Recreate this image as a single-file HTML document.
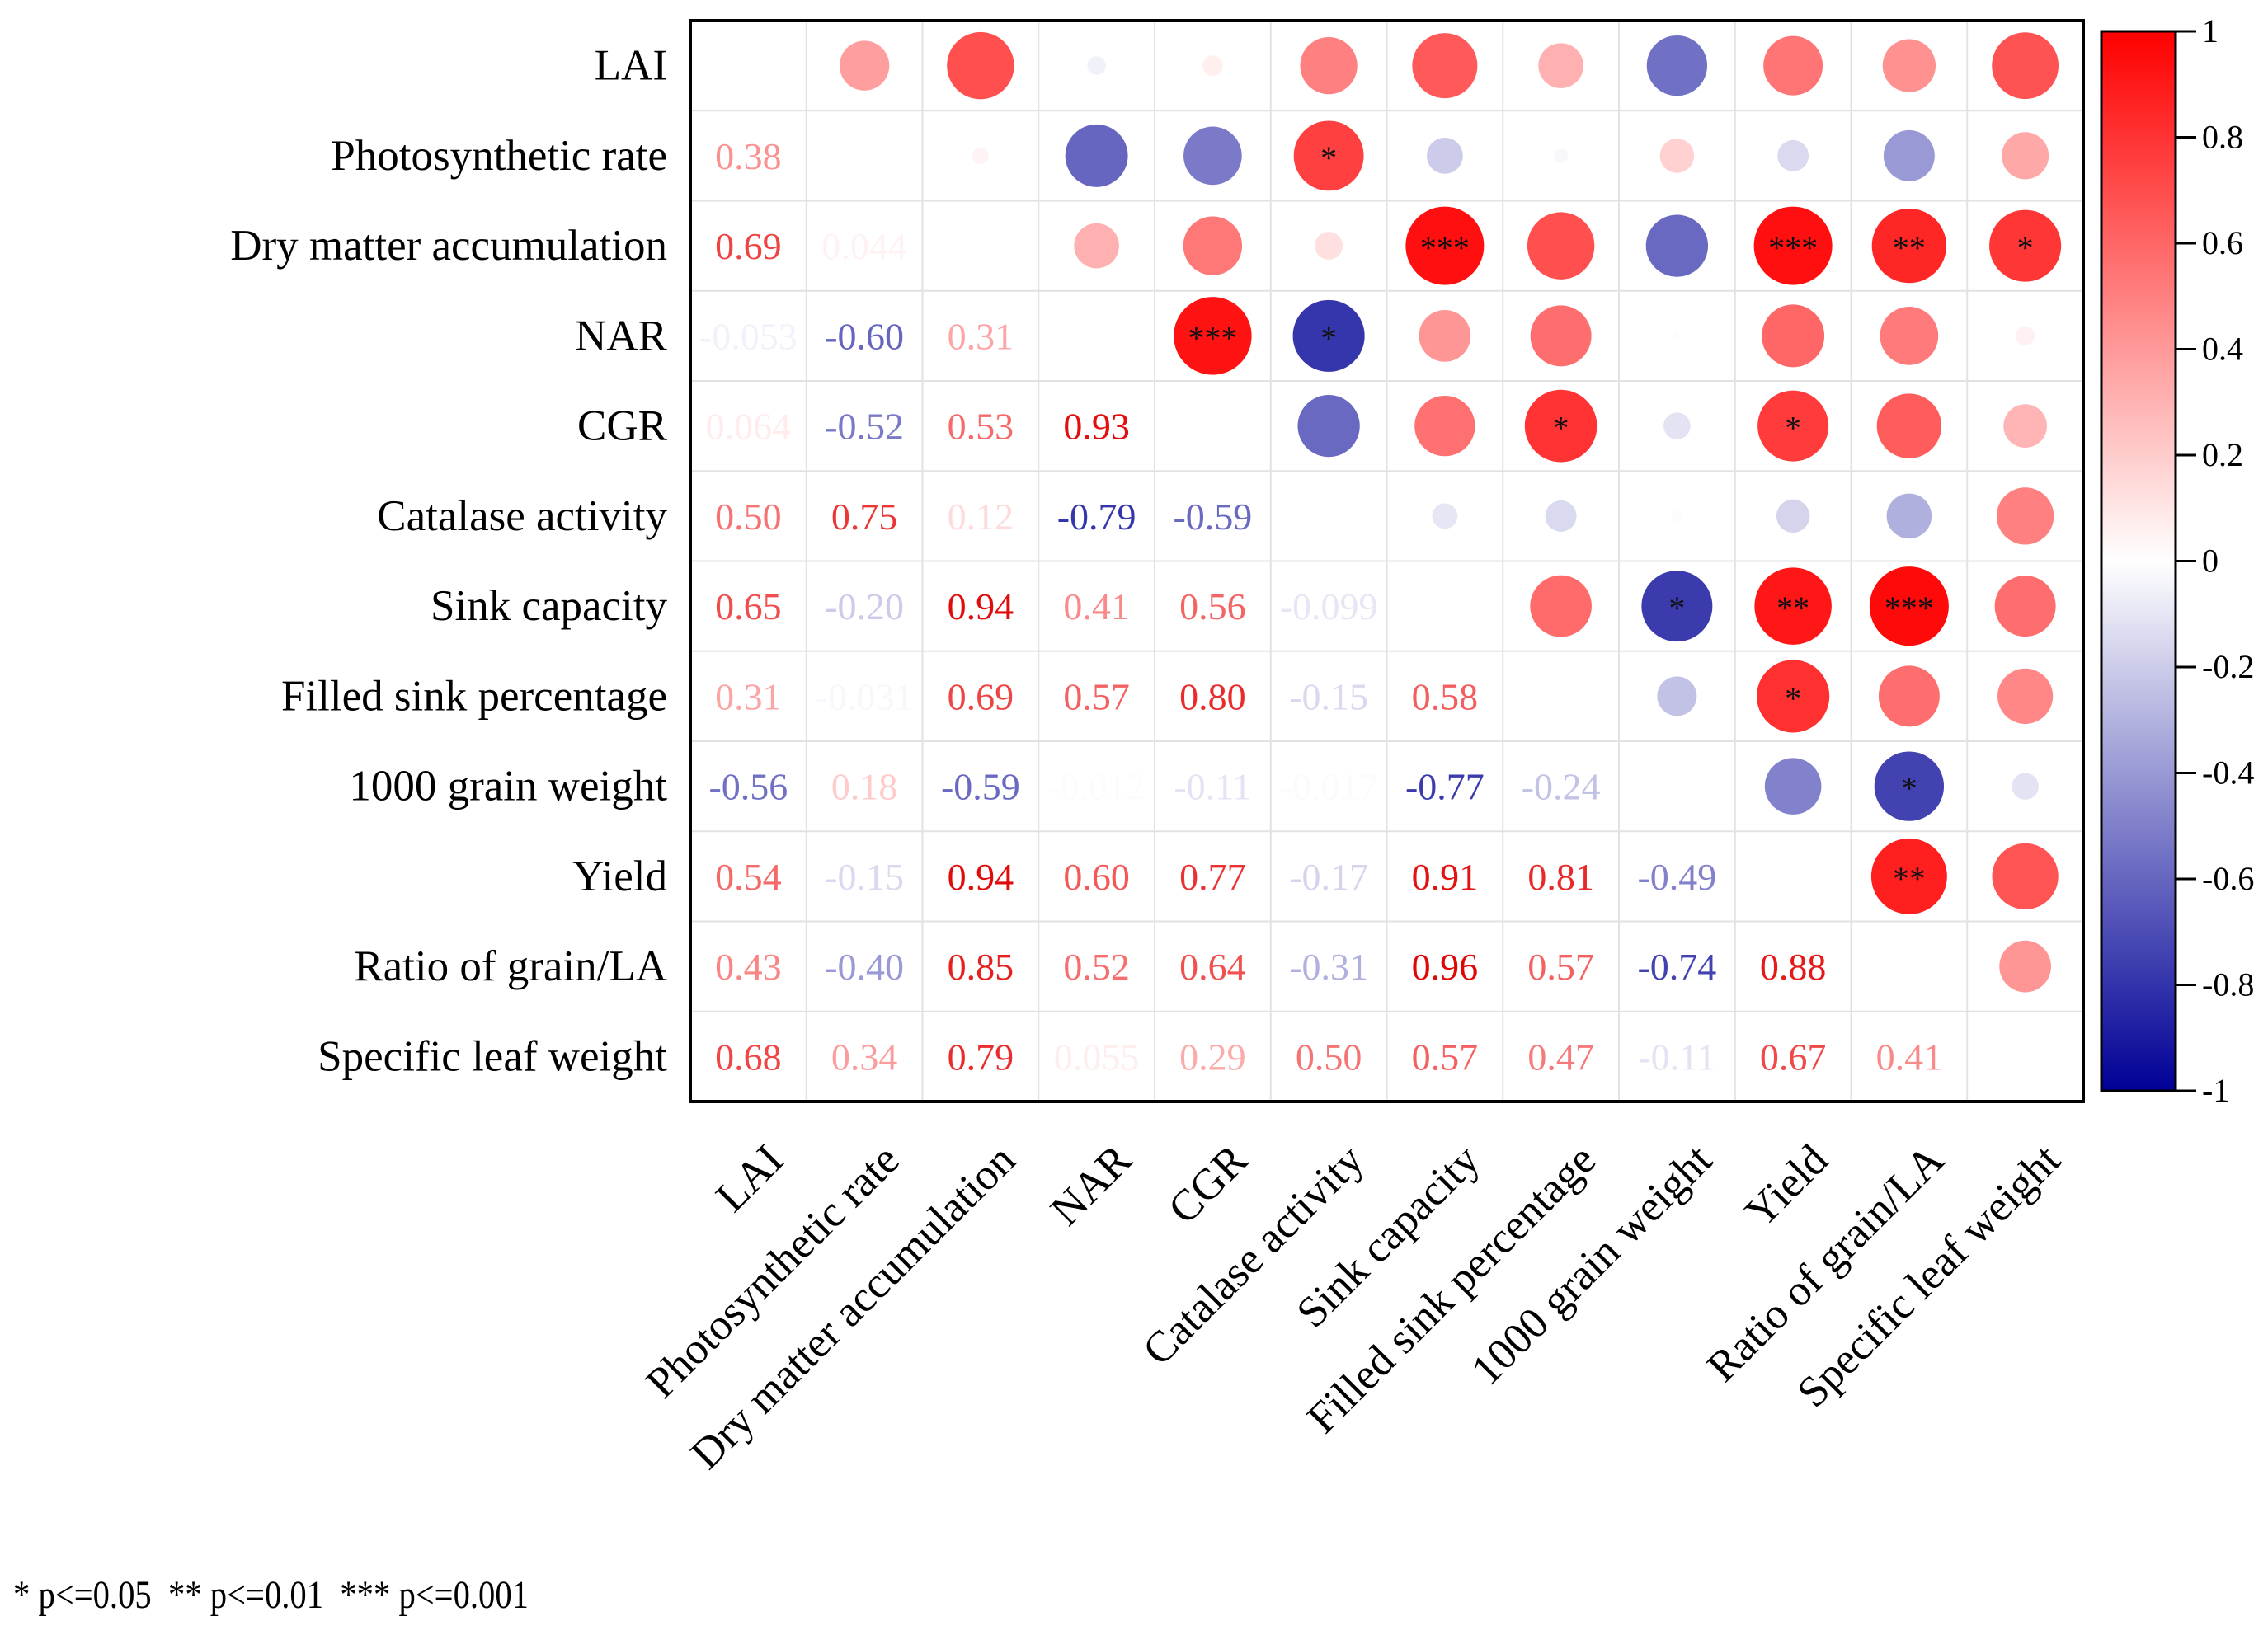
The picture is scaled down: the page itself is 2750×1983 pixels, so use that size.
<!DOCTYPE html>
<html><head><meta charset="utf-8">
<style>html,body{margin:0;padding:0;background:#fff;}svg{display:block;}</style>
</head><body>
<svg id="chart" xmlns="http://www.w3.org/2000/svg" width="2750" height="1983" viewBox="0 0 2750 1983" font-family="'Liberation Serif', serif">
<defs>
<linearGradient id="cbar" x1="0" y1="0" x2="0" y2="1">
<stop offset="0" stop-color="#ff0000"/>
<stop offset="0.5" stop-color="#ffffff"/>
<stop offset="1" stop-color="#000096"/>
</linearGradient>
</defs>
<g id="grid"></g>
<g id="cells"></g>
<rect x="837" y="25" width="1689" height="1311" fill="none" stroke="#000" stroke-width="4"/>
<g id="rowlabels"></g>
<g id="collabels"></g>
<rect x="2548" y="38" width="90" height="1285" fill="url(#cbar)" stroke="#000" stroke-width="3"/>
<g id="cbticks"></g>
<text x="16" y="1950" font-size="48" textLength="625" lengthAdjust="spacingAndGlyphs" fill="#000" xml:space="preserve">* p&lt;=0.05&#160;&#160;** p&lt;=0.01&#160;&#160;*** p&lt;=0.001</text>
</svg>
<script>
const variables = ["LAI","Photosynthetic rate","Dry matter accumulation","NAR","CGR","Catalase activity","Sink capacity","Filled sink percentage","1000 grain weight","Yield","Ratio of grain/LA","Specific leaf weight"];
const lowerValues = [
  [],
  [0.38],
  [0.69,0.044],
  [-0.053,-0.60,0.31],
  [0.064,-0.52,0.53,0.93],
  [0.50,0.75,0.12,-0.79,-0.59],
  [0.65,-0.20,0.94,0.41,0.56,-0.099],
  [0.31,-0.031,0.69,0.57,0.80,-0.15,0.58],
  [-0.56,0.18,-0.59,-0.012,-0.11,-0.017,-0.77,-0.24],
  [0.54,-0.15,0.94,0.60,0.77,-0.17,0.91,0.81,-0.49],
  [0.43,-0.40,0.85,0.52,0.64,-0.31,0.96,0.57,-0.74,0.88],
  [0.68,0.34,0.79,0.055,0.29,0.50,0.57,0.47,-0.11,0.67,0.41]
];
const valueLabels = [
  [],
  ["0.38"],
  ["0.69","0.044"],
  ["-0.053","-0.60","0.31"],
  ["0.064","-0.52","0.53","0.93"],
  ["0.50","0.75","0.12","-0.79","-0.59"],
  ["0.65","-0.20","0.94","0.41","0.56","-0.099"],
  ["0.31","-0.031","0.69","0.57","0.80","-0.15","0.58"],
  ["-0.56","0.18","-0.59","-0.012","-0.11","-0.017","-0.77","-0.24"],
  ["0.54","-0.15","0.94","0.60","0.77","-0.17","0.91","0.81","-0.49"],
  ["0.43","-0.40","0.85","0.52","0.64","-0.31","0.96","0.57","-0.74","0.88"],
  ["0.68","0.34","0.79","0.055","0.29","0.50","0.57","0.47","-0.11","0.67","0.41"]
];
const sigRows = [1,2,2,2,2,3,3,4,4,6,6,6,7,8,9];
const sigCols = [5,6,9,10,11,4,5,7,9,8,9,10,9,10,10];
const sigStars = ["*","***","***","**","*","***","*","*","*","*","**","***","*","*","**"];
const cbTicks = [1,0.8,0.6,0.4,0.2,0,-0.2,-0.4,-0.6,-0.8,-1];
const cbTickLabels = ["1","0.8","0.6","0.4","0.2","0","-0.2","-0.4","-0.6","-0.8","-1"];

const NS="http://www.w3.org/2000/svg";
const X0=837, Y0=25, W=1689, H=1311, N=variables.length;
const cw=W/N, ch=H/N;
const xc = j => X0 + cw*(j+0.5);
const yc = i => Y0 + ch*(i+0.5);
const rad = v => 49*Math.sqrt(Math.abs(v));
function color(v){
  let r,g,b;
  if(v>=0){ r=255; g=Math.round(255*(1-v)); b=g; }
  else { const t=-v; r=Math.round(255*(1-t)); g=r; b=Math.round(255-(255-150)*t); }
  return `rgb(${r},${g},${b})`;
}
function textColor(v){
  if(v>=0){ const t=v; const r=Math.round(255-35*t*t), g=Math.round(255*(1-t)*(1-0.2*t)); return `rgb(${r},${g},${g})`; }
  return color(v);
}
const cbTop=38, cbH=1285;
const cbY = v => cbTop + (1-v)/2*cbH;
function mk(tag, attrs, parent){const e=document.createElementNS(NS,tag);for(const k in attrs)e.setAttribute(k,attrs[k]);parent.appendChild(e);return e;}

const grid=document.getElementById('grid');
for(let k=1;k<N;k++){
  const vl=mk('line',{x1:X0+cw*k,y1:Y0,x2:X0+cw*k,y2:Y0+H,stroke:'#e2e2e2','stroke-width':2},grid);
  
  
  const hl=mk('line',{x1:X0,y1:Y0+ch*k,x2:X0+W,y2:Y0+ch*k,stroke:'#e2e2e2','stroke-width':2},grid);
  
  
}
const cells=document.getElementById('cells');
for(let i=0;i<N;i++){
  for(let j=0;j<i;j++){
    const v=lowerValues[i][j];
    const t=mk('text',{x:xc(j),y:yc(i)+16,'text-anchor':'middle','font-size':46,fill:textColor(v)},cells);
    t.textContent=valueLabels[i][j];
    
    
    const c=mk('circle',{cx:xc(i),cy:yc(j),r:rad(v),fill:color(v)},cells);
    
    
  }
}
for(let k=0;k<sigRows.length;k++){
  const s=mk('text',{x:xc(sigCols[k]),y:yc(sigRows[k])+16,'text-anchor':'middle','font-size':40,fill:'#111'},cells);
  s.textContent=sigStars[k];
  
  
}
const rl=document.getElementById('rowlabels');
variables.forEach((name,i)=>{
  const t=mk('text',{x:809,y:yc(i)+17,'text-anchor':'end','font-size':53,fill:'#000'},rl);
  t.textContent=name;
  
  
});
const cl=document.getElementById('collabels');
variables.forEach((name,j)=>{
  const x=xc(j)+45, y=1410;
  const t=mk('text',{x:x,y:y,'text-anchor':'end','font-size':53,fill:'#000',transform:`rotate(-45 ${x} ${y})`},cl);
  t.textContent=name;
  
  
});
const cbt=document.getElementById('cbticks');
cbTicks.forEach((v,k)=>{
  const y=cbY(v);
  const l=mk('line',{x1:2638,y1:y,x2:2663,y2:y,stroke:'#000','stroke-width':3},cbt);
  
  
  const t=mk('text',{x:2670,y:y+13,'font-size':40,fill:'#000'},cbt);
  t.textContent=cbTickLabels[k];
  
  
});
</script>
</body></html>
